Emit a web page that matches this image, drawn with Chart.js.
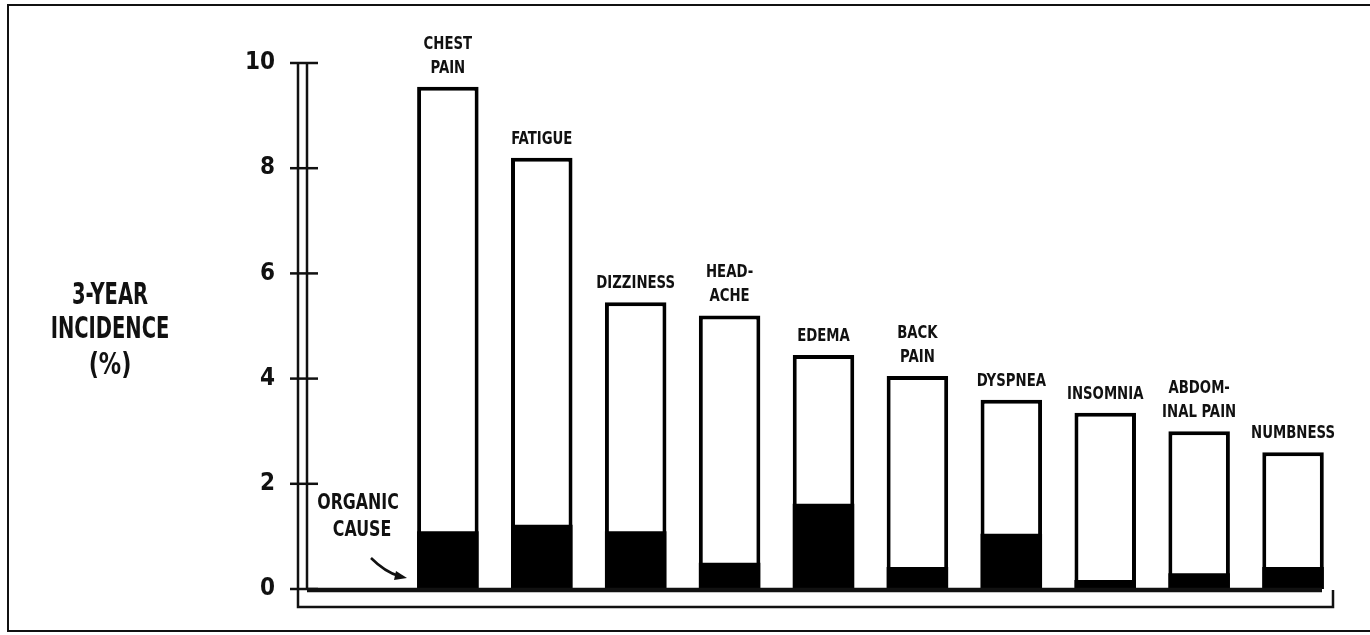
<!DOCTYPE html>
<html lang="en">

<head>
    <meta charset="UTF-8">
    <script src="https://cdn.jsdelivr.net/npm/chart.js"></script>
    <title>3-year incidence</title>
    <style>
        body { margin: 0; background: #fff; }
        #wrap { width: 1370px; height: 635px; }
    </style>
</head>

<body>
    <div id="wrap">
        <canvas id="myChart" width="1370" height="635"></canvas>
    </div>
</body>
<script>
    // symptoms, each as label lines drawn above the bar
    var categories = [
        ['CHEST', 'PAIN'], ['FATIGUE'], ['DIZZINESS'], ['HEAD-', 'ACHE'], ['EDEMA'],
        ['BACK', 'PAIN'], ['DYSPNEA'], ['INSOMNIA'], ['ABDOM-', 'INAL PAIN'], ['NUMBNESS']
    ];
    // whole bar = 3-year incidence (%)
    var totalIncidence = [9.55, 8.2, 5.45, 5.2, 4.45, 4.05, 3.6, 3.35, 3.0, 2.6];
    // black part = organic cause (%)
    var organicCause = [1.1, 1.22, 1.1, 0.5, 1.62, 0.42, 1.05, 0.17, 0.3, 0.42];
    var yTicks = [0, 2, 4, 6, 8, 10];

    var FONT = '"Liberation Sans Narrow", "DejaVu Sans Condensed", Arial, sans-serif';

    // first slot is left empty (where the "organic cause" note sits)
    var labels = [''].concat(categories.map(function (c) { return c.join(' '); }));

    var data = {
        labels: labels,
        datasets: [{
            label: 'Organic cause',
            data: [null].concat(organicCause),
            backgroundColor: '#000',
            borderWidth: 0,
            barPercentage: 0.655,
            categoryPercentage: 1
        }, {
            label: '3-year incidence',
            data: [null].concat(totalIncidence),
            backgroundColor: '#fff',
            borderColor: '#000',
            borderWidth: 4,
            borderSkipped: 'bottom',
            barPercentage: 0.655,
            categoryPercentage: 1
        }]
    };

    // squeezed text, the scan uses a tall condensed face
    function narrowText(ctx, text, x, y, sx) {
        ctx.save();
        ctx.translate(x, y);
        ctx.scale(sx, 1);
        ctx.fillText(text, 0, 0);
        ctx.restore();
    }

    var decor = {
        id: 'decor',
        afterDraw: function (chart) {
            var ctx = chart.ctx;
            var y = chart.scales.y;
            var area = chart.chartArea;
            var y0 = y.getPixelForValue(0);
            var yTop = y.getPixelForValue(10);
            ctx.save();
            ctx.strokeStyle = '#111';
            ctx.fillStyle = '#111';

            // page frame
            ctx.lineWidth = 2;
            ctx.strokeRect(8, 5, 1400, 626);

            // double axis frame
            var outerX = 298, innerX = area.left, rightInner = 1322, rightOuter = 1333, outerY = y0 + 18;
            ctx.lineWidth = 2.5;
            ctx.beginPath();
            ctx.moveTo(outerX, yTop);
            ctx.lineTo(outerX, outerY);
            ctx.lineTo(rightOuter, outerY);
            ctx.lineTo(rightOuter, y0 + 1);
            ctx.stroke();
            ctx.beginPath();
            ctx.moveTo(innerX, yTop);
            ctx.lineTo(innerX, y0 + 1);
            ctx.stroke();
            ctx.lineWidth = 4.5;
            ctx.beginPath();
            ctx.moveTo(innerX, y0 + 1);
            ctx.lineTo(rightInner, y0 + 1);
            ctx.stroke();

            // tick marks crossing both lines
            ctx.lineWidth = 2.5;
            yTicks.forEach(function (v) {
                var py = y.getPixelForValue(v);
                ctx.beginPath();
                ctx.moveTo(290, py);
                ctx.lineTo(318, py);
                ctx.stroke();
            });

            // labels above the bars
            var meta = chart.getDatasetMeta(1);
            ctx.textAlign = 'center';
            ctx.textBaseline = 'alphabetic';
            ctx.font = 'bold 18px ' + FONT;
            categories.forEach(function (lines, i) {
                var bar = meta.data[i + 1];
                var base = bar.y - 14;
                for (var k = lines.length - 1; k >= 0; k--) {
                    narrowText(ctx, lines[k], bar.x, base - (lines.length - 1 - k) * 24, 0.82);
                }
            });

            // y title
            ctx.font = 'bold 31px ' + FONT;
            ctx.textBaseline = 'middle';
            narrowText(ctx, '3-YEAR', 110, 296, 0.7);
            narrowText(ctx, 'INCIDENCE', 110, 330, 0.7);
            narrowText(ctx, '(%)', 110, 366, 0.8);

            // organic cause note with arrow
            ctx.font = 'bold 22px ' + FONT;
            narrowText(ctx, 'ORGANIC', 358, 503, 0.8);
            narrowText(ctx, 'CAUSE', 362, 530, 0.8);
            ctx.lineWidth = 2.5;
            ctx.beginPath();
            ctx.moveTo(371, 558);
            ctx.quadraticCurveTo(385, 572, 399, 576);
            ctx.stroke();
            ctx.beginPath();
            ctx.moveTo(407, 578);
            ctx.lineTo(396, 571);
            ctx.lineTo(394, 580);
            ctx.closePath();
            ctx.fill();
            ctx.restore();
        }
    };

    var config = {
        type: 'bar',
        data: data,
        options: {
            responsive: false,
            animation: false,
            layout: { padding: { left: 0, right: 30, top: 63, bottom: 46 } },
            plugins: { legend: { display: false }, tooltip: { enabled: false } },
            scales: {
                x: { stacked: true, display: false },
                y: {
                    stacked: false,
                    min: 0,
                    max: 10,
                    afterFit: function (scale) { scale.width = 307; },
                    afterBuildTicks: function (scale) {
                        scale.ticks = yTicks.map(function (v) { return { value: v }; });
                    },
                    grid: { display: false },
                    border: { display: false },
                    ticks: {
                        padding: 24,
                        color: '#111',
                        font: { family: FONT, size: 24, weight: 'bold' }
                    }
                }
            }
        },
        plugins: [decor]
    };
    var myChart = new Chart(document.getElementById('myChart'), config);
</script>

</html>
